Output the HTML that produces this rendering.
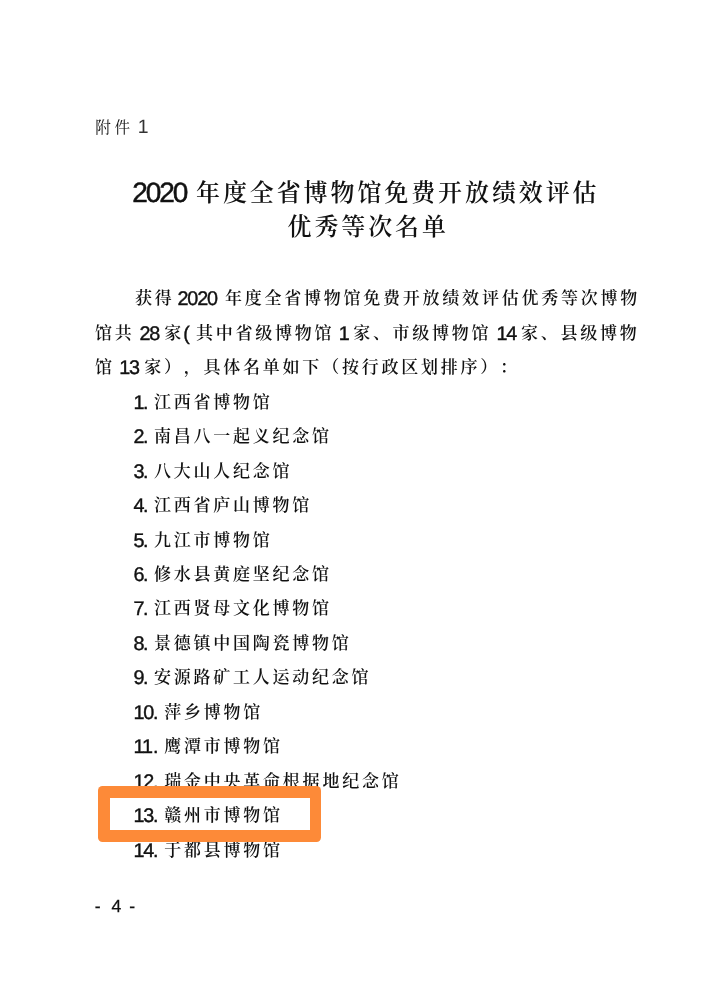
<!DOCTYPE html>
<html lang="zh-CN">
<head>
<meta charset="utf-8">
<title>附件 1</title>
<style>
html,body{margin:0;padding:0;background:#fff;}
body{width:722px;height:1000px;position:relative;overflow:hidden;color:#111;
  font-family:"Liberation Sans","Noto Serif CJK SC",serif;text-spacing-trim:space-all;}
h1,p{margin:0;padding:0;font-size:inherit;font-weight:inherit;}
.l{will-change:transform;position:absolute;left:0;width:722px;height:30px;line-height:30px;white-space:nowrap;}
.l span{position:absolute;top:0;white-space:nowrap;}
.c{font-family:"Noto Serif CJK SC","Liberation Serif",serif;font-weight:600;font-feature-settings:"halt" 0,"chws" 0,"palt" 0;}
.n{font-family:"Liberation Sans",sans-serif;font-weight:400;text-rendering:geometricPrecision;}
.h .c{font-size:15.6px;letter-spacing:3.6px;font-weight:400;margin-top:0.8px;}
.h .n{font-size:19.4px;margin-top:1.6px;color:#333;}
.t .c{font-size:24.0px;letter-spacing:2.90px;}
.t .n{font-size:28.0px;letter-spacing:-2.1px;margin-top:2.2px;-webkit-text-stroke:0.5px #111;}
.b .c{font-size:17.0px;letter-spacing:2.76px;}
.b .n{font-size:19.8px;letter-spacing:-1.15px;margin-top:1.8px;-webkit-text-stroke:0.4px #111;}
.f .n{font-size:17.6px;-webkit-text-stroke:0.25px #111;}
.z{z-index:2;}
.box{z-index:1;position:absolute;left:98px;top:786.4px;width:223.4px;height:55.2px;border-radius:4.5px;background:#fd8a38;}
.box i{position:absolute;left:12px;top:11.8px;width:200px;height:32px;background:#fff;}
</style>
</head>
<body>
<p class="l h" style="top:109.78px"><span class="c" style="left:95.3px">附件</span><span class="n" style="left:137.8px">1</span></p>
<h1 class="l t" style="top:175.64px"><span class="n" style="left:132.3px">2020</span><span class="c" style="left:196px">年度全省博物馆免费开放绩效评估</span></h1>
<h1 class="l t" style="top:210.31px"><span class="c" style="left:287.5px">优秀等次名单</span></h1>
<div class="l b" style="top:282.17px"><span class="c" style="left:135px">获得</span><span class="n" style="left:177.5px">2020</span><span class="c" style="left:225px">年度全省博物馆免费开放绩效评估优秀等次博物</span></div>
<div class="l b" style="top:316.65px"><span class="c" style="left:95px">馆共</span><span class="n" style="left:139.4px">28</span><span class="c" style="left:164.2px">家</span><span class="n" style="left:183.2px">(</span><span class="c" style="left:196px">其中省级博物馆</span><span class="n" style="left:338.7px">1</span><span class="c" style="left:353.2px">家、</span><span class="c" style="left:392.4px">市级博物馆</span><span class="n" style="left:496.5px">14</span><span class="c" style="left:521px">家、</span><span class="c" style="left:560.5px">县级博物</span></div>
<div class="l b" style="top:351.12px"><span class="c" style="left:95px">馆</span><span class="n" style="left:119.2px">13</span><span class="c" style="left:144.3px">家）</span><span class="c" style="left:183.82px">，具体名单如下</span><span class="c" style="left:322.14px">（按行政区划排序）</span><span class="c" style="left:499.98px">：</span></div>
<div class="l b" style="top:385.60px"><span class="n" style="left:133.5px">1</span><span class="n" style="left:143.1px">.</span><span class="c" style="left:154px">江西省博物馆</span></div>
<div class="l b" style="top:420.08px"><span class="n" style="left:133.5px">2</span><span class="n" style="left:143.1px">.</span><span class="c" style="left:154px">南昌八一起义纪念馆</span></div>
<div class="l b" style="top:454.55px"><span class="n" style="left:133.5px">3</span><span class="n" style="left:143.1px">.</span><span class="c" style="left:154px">八大山人纪念馆</span></div>
<div class="l b" style="top:489.03px"><span class="n" style="left:133.5px">4</span><span class="n" style="left:143.1px">.</span><span class="c" style="left:154px">江西省庐山博物馆</span></div>
<div class="l b" style="top:523.51px"><span class="n" style="left:133.5px">5</span><span class="n" style="left:143.1px">.</span><span class="c" style="left:154px">九江市博物馆</span></div>
<div class="l b" style="top:557.99px"><span class="n" style="left:133.5px">6</span><span class="n" style="left:143.1px">.</span><span class="c" style="left:154px">修水县黄庭坚纪念馆</span></div>
<div class="l b" style="top:592.46px"><span class="n" style="left:133.5px">7</span><span class="n" style="left:143.1px">.</span><span class="c" style="left:154px">江西贤母文化博物馆</span></div>
<div class="l b" style="top:626.94px"><span class="n" style="left:133.5px">8</span><span class="n" style="left:143.1px">.</span><span class="c" style="left:154px">景德镇中国陶瓷博物馆</span></div>
<div class="l b" style="top:661.42px"><span class="n" style="left:133.5px">9</span><span class="n" style="left:143.1px">.</span><span class="c" style="left:154px">安源路矿工人运动纪念馆</span></div>
<div class="l b" style="top:695.89px"><span class="n" style="left:133.5px">10</span><span class="n" style="left:153px">.</span><span class="c" style="left:164.3px">萍乡博物馆</span></div>
<div class="l b" style="top:730.37px"><span class="n" style="left:133.5px">11</span><span class="n" style="left:153px">.</span><span class="c" style="left:164.3px">鹰潭市博物馆</span></div>
<div class="l b" style="top:764.85px"><span class="n" style="left:133.5px">12</span><span class="n" style="left:153px">.</span><span class="c" style="left:164.3px">瑞金中央革命根据地纪念馆</span></div>
<div class="box"><i></i></div>
<div class="l b z" style="top:799.32px"><span class="n" style="left:133.5px">13</span><span class="n" style="left:153px">.</span><span class="c" style="left:164.3px">赣州市博物馆</span></div>
<div class="l b" style="top:833.80px"><span class="n" style="left:133.5px">14</span><span class="n" style="left:153px">.</span><span class="c" style="left:164.3px">于都县博物馆</span></div>
<div class="l f" style="top:891.46px"><span class="n" style="left:94.8px">-</span><span class="n" style="left:111.6px">4</span><span class="n" style="left:129.2px">-</span></div>
</body>
</html>
